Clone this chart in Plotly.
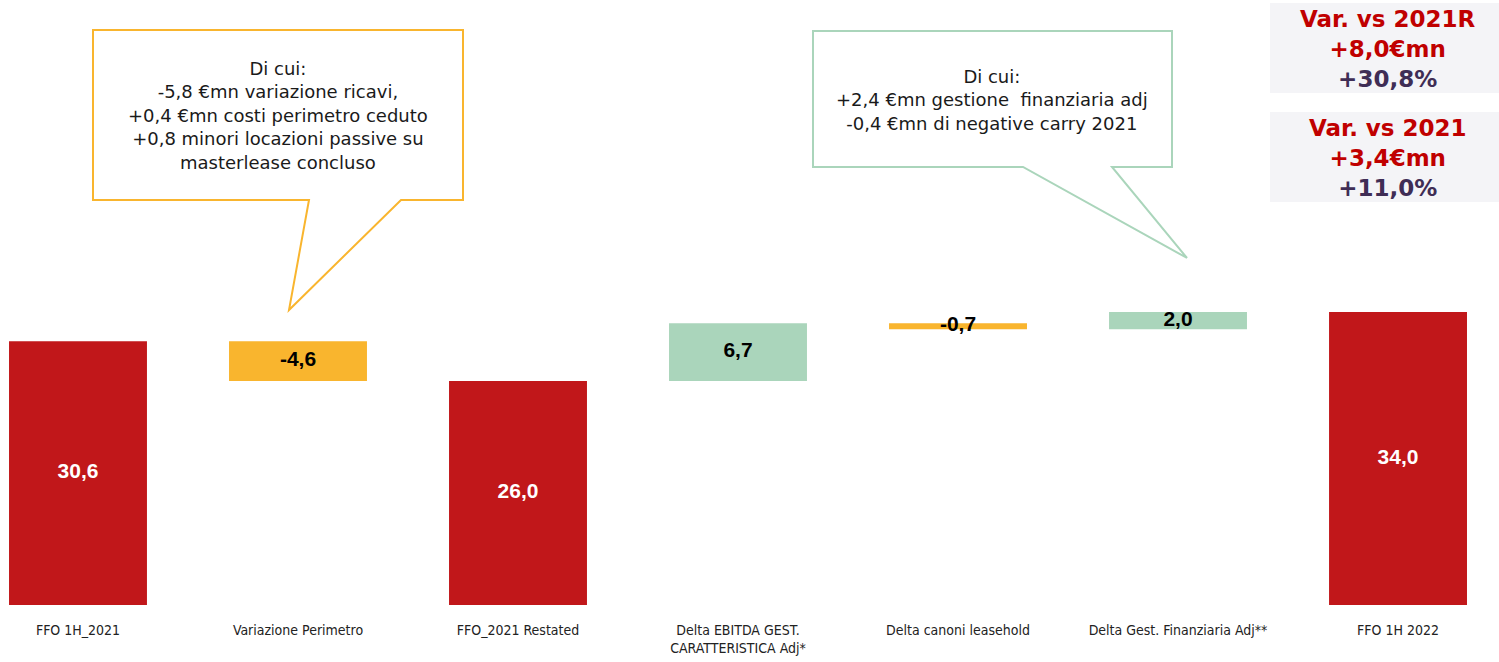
import plotly.graph_objects as go

# data (€mn)
categories = ["FFO 1H_2021", "Variazione Perimetro", "FFO_2021 Restated",
              "Delta EBITDA GEST.<br>CARATTERISTICA Adj*", "Delta canoni leasehold",
              "Delta Gest. Finanziaria Adj**", "FFO 1H 2022"]
values = [30.6, -4.6, 26.0, 6.7, -0.7, 2.0, 34.0]
measures = ["absolute", "relative", "total", "relative", "relative", "relative", "total"]

callout_left = ["Di cui:", "-5,8 €mn variazione ricavi,", "+0,4 €mn costi perimetro ceduto",
                "+0,8 minori locazioni passive su", "masterlease concluso"]
callout_right = ["Di cui:", "+2,4 €mn gestione  finanziaria adj", "-0,4 €mn di negative carry 2021"]
var_boxes = [("Var. vs 2021R", "+8,0€mn", "+30,8%"), ("Var. vs 2021", "+3,4€mn", "+11,0%")]

RED = "#C1171A"
ORANGE = "#F9B52E"
GREEN = "#AAD5BB"

W, H = 1499, 662
B = 57
PH = H - B


def px(x):
    return x / W


def py(y):
    return (PH - y) / PH


# running totals to place the label in the middle of each bar
mids = []
colors_txt = []
run = 0
for v, m in zip(values, measures):
    if m == "absolute":
        run = v
        mids.append(v / 2)
    elif m == "total":
        mids.append(run / 2)
    else:
        mids.append(run + v / 2)
        run += v
    colors_txt.append("white" if m != "relative" else "black")

labels = [f"<b>{v:.1f}</b>".replace(".", ",") for v in values]

fig = go.Figure()
fig.add_trace(go.Waterfall(
    x=list(range(len(values))),
    y=values,
    measure=measures,
    increasing=dict(marker=dict(color=GREEN)),
    decreasing=dict(marker=dict(color=ORANGE)),
    totals=dict(marker=dict(color=RED)),
    connector=dict(visible=False),
    hoverinfo="skip",
))
fig.add_trace(go.Scatter(
    x=list(range(len(values))),
    y=mids,
    mode="text",
    text=labels,
    textfont=dict(family="Liberation Sans, Arial, sans-serif", size=21, color=colors_txt),
    hoverinfo="skip",
))


# callout shapes (box + tail)
def callout(x0, y0, x1, y1, ta, tb, tip, color):
    path = (f"M {px(x0)},{py(y0)} L {px(x1)},{py(y0)} L {px(x1)},{py(y1)} "
            f"L {px(tb)},{py(y1)} L {px(tip[0])},{py(tip[1])} L {px(ta)},{py(y1)} "
            f"L {px(x0)},{py(y1)} Z")
    fig.add_shape(type="path", path=path, xref="paper", yref="paper",
                  line=dict(color=color, width=2), fillcolor="white", layer="above")


callout(93, 30, 463, 200, 309, 401, (289, 310), ORANGE)
callout(813, 31, 1172, 167, 1023, 1112, (1187, 258), GREEN)

txt_font = dict(family="DejaVu Sans, Verdana, sans-serif", size=18, color="#1a1a1a")
fig.add_annotation(x=px(278), y=py(115), xref="paper", yref="paper", xanchor="center",
                   yanchor="middle", text="<br>".join(callout_left), showarrow=False,
                   font=txt_font, align="center")
fig.add_annotation(x=px(992), y=py(100), xref="paper", yref="paper", xanchor="center",
                   yanchor="middle", text="<br>".join(callout_right), showarrow=False,
                   font=txt_font, align="center")

# variance boxes on the top right
for (l1, l2, l3), (y0, y1) in zip(var_boxes, [(3, 93), (112, 202)]):
    fig.add_shape(type="rect", xref="paper", yref="paper",
                  x0=px(1270), x1=px(1499), y0=py(y1), y1=py(y0),
                  fillcolor="#F4F4F7", line=dict(width=0), layer="below")
    fig.add_annotation(
        x=px(1388), y=py((y0 + y1) / 2 + 1), xref="paper", yref="paper", showarrow=False,
        xanchor="center", yanchor="middle",
        text=(f"<b><span style='color:#C00000'>{l1}</span><br>"
              f"<span style='color:#C00000'>{l2}</span><br>"
              f"<span style='color:#3F2D55'>{l3}</span></b>"),
        font=dict(family="DejaVu Sans, Verdana, sans-serif", size=23), align="center")

fig.update_layout(
    width=W, height=H,
    margin=dict(l=0, r=0, t=0, b=B),
    plot_bgcolor="white", paper_bgcolor="white",
    showlegend=False,
    waterfallgap=0.373,
    xaxis=dict(range=[-0.3545, 6.459], tickmode="array", tickvals=list(range(len(values))),
               ticktext=categories, showgrid=False, zeroline=False, showline=False,
               ticks="", ticklabelstandoff=15,
               tickfont=dict(family="DejaVu Sans Condensed, Liberation Sans Narrow, sans-serif",
                             size=14, color="#222")),
    yaxis=dict(range=[0, PH / 8.62], visible=False, showgrid=False, zeroline=False),
)

fig.write_html("out.html", config={"displayModeBar": False},
               post_script="document.body.style.margin='0';")
